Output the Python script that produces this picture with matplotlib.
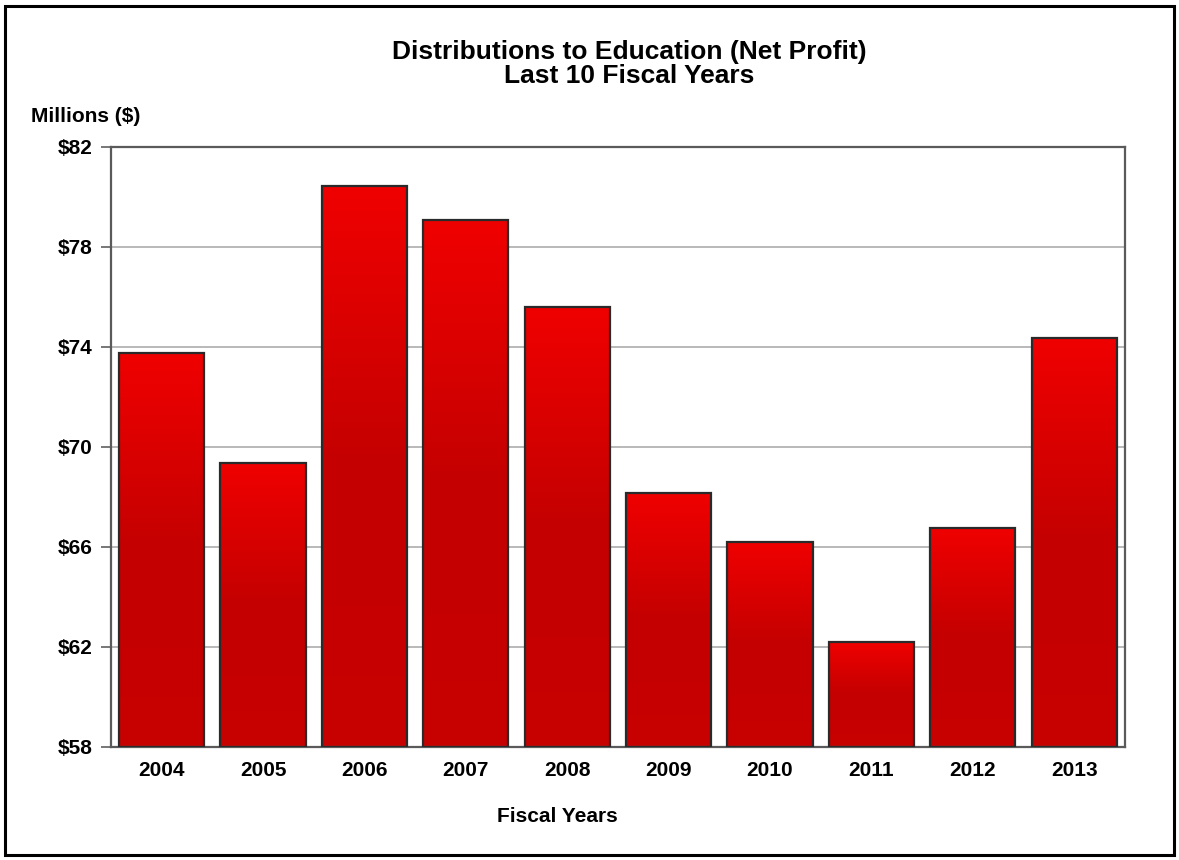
import numpy as np
import matplotlib
matplotlib.use("Agg")
import matplotlib.pyplot as plt
from matplotlib.colors import LinearSegmentedColormap
from matplotlib.patches import Rectangle

plt.rcParams['font.family'] = ['Liberation Sans', 'DejaVu Sans']
plt.rcParams['font.weight'] = 'bold'

years = ['2004', '2005', '2006', '2007', '2008', '2009', '2010', '2011', '2012', '2013']
distributions = [73.76, 69.37, 80.43, 79.07, 75.58, 68.17, 66.21, 62.2, 66.77, 74.34]
y_ticks = [58, 62, 66, 70, 74, 78, 82]
y_tick_labels = ['$58', '$62', '$66', '$70', '$74', '$78', '$82']

fig = plt.figure(figsize=(11.79, 8.6), dpi=100)
ax = fig.add_axes([0.0941, 0.1314, 0.86, 0.698])

base = 58
x = np.arange(len(years))
bars = ax.bar(x, [v - base for v in distributions], bottom=base, width=0.84,
              facecolor='none', edgecolor='#2a2a2a', linewidth=1.6, zorder=3)

# vertical red gradient inside every bar, bright at the top
red_grad = LinearSegmentedColormap.from_list(
    'red_grad', [(0.0, '#f00000'), (0.5, '#c40000'), (1.0, '#c80000')])
grad = np.linspace(0, 1, 256).reshape(-1, 1)
for bar in bars:
    x0 = bar.get_x()
    x1 = x0 + bar.get_width()
    y0 = bar.get_y()
    y1 = y0 + bar.get_height()
    im = ax.imshow(grad, cmap=red_grad, aspect='auto',
                   extent=(x0, x1, y0, y1), origin='upper', zorder=2)
    im.set_clip_path(bar)

ax.set_xlim(-0.5, len(years) - 0.5)
ax.set_ylim(58, 82)
ax.set_yticks(y_ticks)
ax.set_yticklabels(y_tick_labels)
ax.set_xticks(x)
ax.set_xticklabels(years)
ax.tick_params(axis='x', length=0, pad=10, labelsize=15)
ax.tick_params(axis='y', length=7, width=1.2, color='#606060', pad=6, labelsize=15)
ax.yaxis.grid(True, color='#a6a6a6', linewidth=1.1, zorder=0)
ax.set_axisbelow(True)
for side in ['left', 'right', 'top', 'bottom']:
    ax.spines[side].set_color('#5a5a5a')
    ax.spines[side].set_linewidth(1.6)

fig.text(0.534, 0.9395, 'Distributions to Education (Net Profit)', ha='center', va='center',
         fontsize=19, fontweight='bold')
fig.text(0.534, 0.912, 'Last 10 Fiscal Years', ha='center', va='center',
         fontsize=19, fontweight='bold')
fig.text(0.026, 0.864, 'Millions ($)', ha='left', va='center', fontsize=15, fontweight='bold')
fig.text(0.473, 0.05, 'Fiscal Years', ha='center', va='center', fontsize=15, fontweight='bold')

# outer frame around the whole chart
fig.patches.append(Rectangle((0.0042, 0.006), 0.9916, 0.987, transform=fig.transFigure,
                             fill=False, edgecolor='black', linewidth=2.2))

fig.savefig('out.png', dpi=100)
